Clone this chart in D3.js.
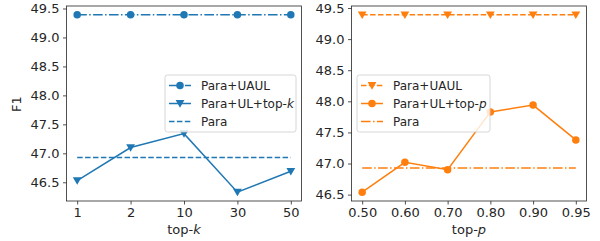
<!DOCTYPE html>
<html>
<head>
<meta charset="utf-8">
<title>F1 vs top-k / top-p</title>
<style>
  body { margin: 0; background: #fff; }
  text { font-family: 'DejaVu Sans', sans-serif; fill: #262626; }
</style>
<script src="https://cdnjs.cloudflare.com/ajax/libs/d3/7.8.5/d3.min.js"></script>
</head>
<body>
<div id="plot"></div>
<script>
  // left panel: top-k
  var kCats = ["1", "2", "10", "30", "50"];
  var kUAUL = [49.39, 49.39, 49.39, 49.39, 49.39];
  var kTopK = [46.53, 47.10, 47.34, 46.33, 46.69];
  var kPara = [46.93, 46.93, 46.93, 46.93, 46.93];

  // right panel: top-p
  var pCats = ["0.50", "0.60", "0.70", "0.80", "0.90", "0.95"];
  var pUAUL = [49.39, 49.39, 49.39, 49.39, 49.39, 49.39];
  var pTopP = [46.54, 47.02, 46.90, 47.83, 47.94, 47.38];
  var pPara = [46.93, 46.93, 46.93, 46.93, 46.93, 46.93];

  var yTicks = [46.5, 47.0, 47.5, 48.0, 48.5, 49.0, 49.5];

  var blue = "#1f77b4", orange = "#ff7f0e";
  var DASH = "5.5,2.4", DASHDOT = "9.6,2.4,1.5,2.4";

  var w = 600, h = 241, plotTop = 6, plotBottom = 201;

  var svg = d3.select("#plot").append("svg")
      .attr("width", w).attr("height", h);

  function panel(opt) {
    var g = svg.append("g");
    var n = opt.cats.length;
    var x = d3.scaleLinear().domain([-0.05 * (n - 1), 1.05 * (n - 1)])
        .range([opt.left, opt.right]);
    var all = [].concat.apply([], opt.series.map(function(s) { return s.values; }));
    var lo = d3.min(all), hi = d3.max(all), pad = (hi - lo) * 0.05;
    var y = d3.scaleLinear().domain([lo - pad, hi + pad]).range([plotBottom, plotTop]);

    var xAxis = d3.axisBottom(x).tickValues(d3.range(n))
        .tickFormat(function(i) { return opt.cats[i]; })
        .tickSize(3.5).tickPadding(3.5);
    var yAxis = d3.axisLeft(y).tickValues(yTicks).tickFormat(d3.format(".1f"))
        .tickSize(3.5).tickPadding(3.5);

    var gx = g.append("g").attr("transform", "translate(0," + plotBottom + ")").call(xAxis);
    var gy = g.append("g").attr("transform", "translate(" + opt.left + ",0)").call(yAxis);
    [gx, gy].forEach(function(a) {
      a.select(".domain").remove();
      a.selectAll("text").attr("font-size", 13).attr("fill", "#262626")
        .attr("font-family", "DejaVu Sans");
      a.selectAll("line").attr("stroke", "#262626").attr("stroke-width", 0.8);
    });

    var line = d3.line().x(function(d, i) { return x(i); }).y(function(d) { return y(d); });

    opt.series.forEach(function(s) {
      g.append("path").datum(s.values)
        .attr("d", line).attr("fill", "none")
        .attr("stroke", opt.color).attr("stroke-width", 1.5)
        .attr("stroke-dasharray", s.dash || null);
      if (s.marker) {
        g.selectAll(null).data(s.values).enter().append("path")
          .attr("transform", function(d, i) { return "translate(" + x(i) + "," + y(d) + ")"; })
          .attr("d", markerPath(s.marker))
          .attr("fill", opt.color);
      }
    });

    g.append("rect").attr("x", opt.left).attr("y", plotTop)
      .attr("width", opt.right - opt.left).attr("height", plotBottom - plotTop)
      .attr("fill", "none").attr("stroke", "#262626").attr("stroke-width", 0.8);

    g.append("text").attr("x", (opt.left + opt.right) / 2).attr("y", 234)
      .attr("text-anchor", "middle").attr("font-size", 13)
      .html(opt.xlabel);

    // legend
    var lg = g.append("g").attr("transform", "translate(" + opt.legX + ",75)");
    lg.append("rect").attr("width", opt.legW).attr("height", 57)
      .attr("rx", 2.5).attr("fill", "#fff").attr("fill-opacity", 0.8)
      .attr("stroke", "#cccccc").attr("stroke-width", 0.8);
    opt.series.forEach(function(s, i) {
      var yy = 10.5 + i * 18;
      lg.append("line").attr("x1", 4).attr("x2", 26).attr("y1", yy).attr("y2", yy)
        .attr("stroke", opt.color).attr("stroke-width", 1.5)
        .attr("stroke-dasharray", s.dash || null);
      if (s.marker) {
        lg.append("path").attr("transform", "translate(15," + yy + ")")
          .attr("d", markerPath(s.marker)).attr("fill", opt.color);
      }
      lg.append("text").attr("x", 36).attr("y", yy + 4.3).attr("font-size", 12)
        .html(s.label);
    });
  }

  function markerPath(type) {
    if (type === "circle") return d3.symbol().type(d3.symbolCircle).size(44)();
    return "M-4.4,-3.4L4.4,-3.4L0,4.2Z";
  }

  panel({
    cats: kCats, left: 66.5, right: 301.5, color: blue, legX: 165, legW: 131,
    xlabel: 'top-<tspan font-style="italic">k</tspan>',
    series: [
      { values: kUAUL, dash: DASHDOT, marker: "circle", label: "Para+UAUL" },
      { values: kTopK, marker: "tri", label: 'Para+UL+top-<tspan font-style="italic">k</tspan>' },
      { values: kPara, dash: DASH, label: "Para" }
    ]
  });

  panel({
    cats: pCats, left: 351.5, right: 586.5, color: orange, legX: 357, legW: 133,
    xlabel: 'top-<tspan font-style="italic">p</tspan>',
    series: [
      { values: pUAUL, dash: DASH, marker: "tri", label: "Para+UAUL" },
      { values: pTopP, marker: "circle", label: 'Para+UL+top-<tspan font-style="italic">p</tspan>' },
      { values: pPara, dash: DASHDOT, label: "Para" }
    ]
  });

  svg.append("text").attr("transform", "translate(21,104) rotate(-90)")
    .attr("text-anchor", "middle").attr("font-size", 13).text("F1");
</script>
</body>
</html>
